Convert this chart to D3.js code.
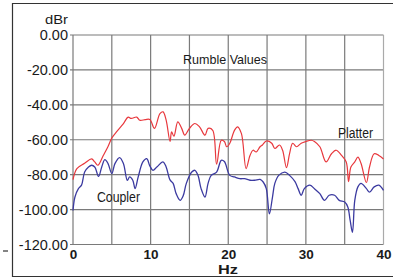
<!DOCTYPE html>
<html>
<head>
<meta charset="utf-8">
<script src="https://cdn.jsdelivr.net/npm/d3@7"></script>
<style>
  body { margin: 0; background: #fff; }
  svg { display: block; font-family: "Liberation Sans", Arial, sans-serif; }
</style>
</head>
<body>
<svg id="chart"></svg>
<script>
// data
const yTicks = [0, -20, -40, -60, -80, -100, -120];
const yTickLabels = ['0.00', '-20.00', '-40.00', '-60.00', '-80.00', '-100.00', '-120.00'];
const xTicks = [0, 10, 20, 30, 40];
const xGrid = [0, 5, 10, 15, 20, 25, 30, 35, 40];

const platterHz = [0, 0.5, 1.5, 2.4, 2.8, 3.2, 3.9, 4.5, 5, 5.6, 6.5, 7.1, 7.5, 8.2, 8.6, 9.3, 9.9,
  10.5, 11.2, 11.6, 12, 12.5, 12.7, 13, 13.5, 14, 14.4, 15, 15.7, 16.3, 17, 17.4, 18, 18.5, 19.1,
  19.5, 19.8, 20.2, 20.8, 21.2, 21.7, 22.3, 22.8, 23.2, 23.6, 24.1, 24.4, 24.9, 25.6, 26, 26.6, 27,
  27.5, 27.9, 28.3, 28.8, 29.4, 30, 30.7, 31.1, 31.8, 32.6, 33.3, 33.9, 34.6, 35.2, 35.5, 35.8, 36.3,
  36.7, 37.1, 37.8, 38.2, 38.8, 39.4, 40];
const platterDb = [-82.8, -76.5, -73.5, -71, -72.7, -74.6, -69, -64, -59, -55.5, -50.7, -47, -47.8, -47, -48.8, -48.5, -48.4,
  -53.5, -45, -44, -48.8, -61, -55.5, -58, -49.8, -53.5, -57.4, -53.5, -50.7, -52.6, -57.4, -53.5, -54.6, -74, -60.3,
  -61, -64, -62, -54.6, -52.6, -56.5, -76.5, -69, -66, -67, -64, -63, -60.7, -62, -65, -63, -66,
  -76, -68, -62, -64, -62, -61, -60.3, -61, -64, -72.7, -68, -66, -69, -72.7, -84, -75.6, -72.7,
  -70, -73.5, -84.5, -75.6, -68, -69, -71];

const couplerHz = [0, 0.25, 0.7, 1.1, 1.5, 2, 2.4, 2.8, 3.3, 3.7, 4.1, 4.5, 5, 5.4, 6, 6.5, 7, 7.3, 7.7, 8,
  8.4, 9, 9.5, 9.9, 10.3, 10.8, 11.6, 12, 12.5, 12.9, 13.3, 13.8, 14.2, 14.6, 15.3, 15.7, 16.1, 16.5, 17,
  17.4, 17.8, 18.5, 19.1, 19.5, 20.2, 20.8, 21.5, 22.1, 22.8, 23.4, 24.1, 24.5, 24.9, 25.3, 25.7, 26,
  26.5, 27.3, 27.9, 28.6, 29, 29.4, 29.8, 30.5, 31.1, 31.8, 32.4, 33, 33.7, 34.3, 35, 35.4, 35.7, 36,
  36.3, 36.7, 37.1, 37.8, 38.2, 38.8, 39.4, 40];
const couplerDb = [-100.5, -92.8, -88, -86, -78.5, -75.6, -74.6, -75.6, -81, -75.6, -71.4, -73.5, -79.4, -73.7, -70.2, -73.7, -83.2, -81.3, -83.2, -88,
  -81.3, -72.7, -70.8, -75, -77.5, -75.6, -72.7, -75.6, -83, -85, -91, -94.7, -92, -85, -78.5, -77.5, -80.4, -88, -92.8,
  -85, -80.4, -78.5, -71.8, -72.5, -80.4, -81.3, -82.3, -82.3, -83.2, -83.2, -82.7, -84.2, -88, -102.5, -92.8, -85,
  -80.4, -78.5, -80.4, -84, -88, -91.8, -88, -86, -88, -90.9, -94.7, -91.8, -91.8, -94.7, -95.7, -98.5, -106, -113,
  -94.7, -87, -85, -88, -90, -87, -86, -89];

const width = 393, height = 278;
const margin = {top: 35, right: 9.5, bottom: 33.5, left: 73};
const innerW = width - margin.left - margin.right;
const innerH = height - margin.top - margin.bottom;

const svg = d3.select('#chart').attr('width', width).attr('height', height);

// outer frame of the scanned figure
svg.append('path')
  .attr('d', `M393,3.5 H12.5 V276.5 H393`)
  .attr('fill', 'none').attr('stroke', '#333').attr('stroke-width', 1.2);
svg.append('line')
  .attr('x1', 3).attr('x2', 8).attr('y1', 251).attr('y2', 251)
  .attr('stroke', '#333').attr('stroke-width', 1.2);

const chart = svg.append('g')
  .attr('transform', `translate(${margin.left}, ${margin.top})`);

const x = d3.scaleLinear().domain([0, 40]).range([0, innerW]);
const y = d3.scaleLinear().domain([-120, 0]).range([innerH, 0]);

// grid
chart.selectAll('.hgrid').data(yTicks).join('line')
  .attr('x1', -3).attr('x2', innerW)
  .attr('y1', d => y(d)).attr('y2', d => y(d))
  .attr('stroke', '#7a7a7a').attr('stroke-width', 1.2);
chart.selectAll('.vgrid').data(xGrid).join('line')
  .attr('x1', d => x(d)).attr('x2', d => x(d))
  .attr('y1', 0).attr('y2', innerH)
  .attr('stroke', d => d === 40 ? '#aaa' : '#7a7a7a').attr('stroke-width', 1.2);

// axes (labels only, grid drawn above)
const yaxis = d3.axisLeft(y).tickValues(yTicks).tickSize(0).tickPadding(5)
  .tickFormat((d, i) => yTickLabels[i]);
const yg = chart.append('g').call(yaxis);
yg.select('.domain').remove();
yg.selectAll('text').attr('font-size', '14.5px').attr('fill', '#1a1a1a')
  .attr('font-family', '"Liberation Sans", Arial, sans-serif');

const xaxis = d3.axisBottom(x).tickValues(xTicks).tickSize(0).tickPadding(5);
const xg = chart.append('g').attr('transform', `translate(0, ${innerH})`).call(xaxis);
xg.select('.domain').remove();
xg.selectAll('text').attr('font-size', '13.5px').attr('font-weight', 'bold').attr('fill', '#1a1a1a')
  .attr('font-family', '"Liberation Sans", Arial, sans-serif');

// series
const line = d3.line().x(d => x(d[0])).y(d => y(d[1])).curve(d3.curveCatmullRom.alpha(0.5));
chart.append('path')
  .datum(d3.zip(platterHz, platterDb))
  .attr('d', line).attr('fill', 'none')
  .attr('stroke', '#e8383d').attr('stroke-width', 1.2);
chart.append('path')
  .datum(d3.zip(couplerHz, couplerDb))
  .attr('d', line).attr('fill', 'none')
  .attr('stroke', '#3b3aa0').attr('stroke-width', 1.3);

// labels
const label = (txt, px, py, size, len, anchor) => {
  const t = svg.append('text').attr('x', px).attr('y', py)
    .attr('font-size', size).attr('fill', '#1a1a1a')
    .attr('text-anchor', anchor || 'middle').text(txt);
  if (len) t.attr('textLength', len).attr('lengthAdjust', 'spacingAndGlyphs');
  return t;
};
label('dBr', 56.5, 24, '13px', 23);
label('Rumble Values', 225, 64, '13.5px', 84);
label('Platter', 355.5, 138, '14px', 35);
label('Coupler', 118.5, 201.5, '14px', 43);
label('Hz', 228, 273.5, '13.5px', 20).attr('font-weight', 'bold');
</script>
</body>
</html>
